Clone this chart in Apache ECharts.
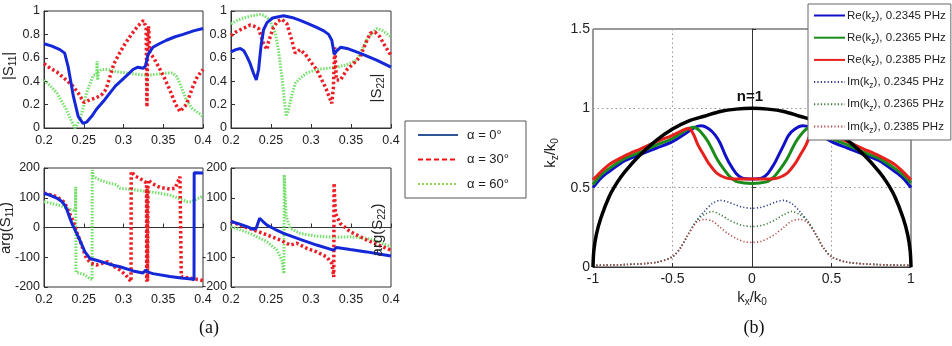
<!DOCTYPE html>
<html><head><meta charset="utf-8">
<script src="https://cdn.jsdelivr.net/npm/echarts@6/dist/echarts.min.js"></script>
<style>html,body{margin:0;padding:0;background:#fff}#c{width:952px;height:346px}</style>
</head><body><div id="c"></div>
<script>
// ---------- data: panel (a) ----------
const s11Blue = [[0.2,0.72],[0.21,0.70],[0.22,0.67],[0.226,0.64],[0.2305,0.52],[0.237,0.27],[0.243,0.10],[0.249,0.04],[0.2535,0.05],[0.26,0.10],[0.266,0.16],[0.275,0.23],[0.283,0.30],[0.29,0.36],[0.2996,0.42],[0.306,0.46],[0.312,0.50],[0.318,0.52],[0.3247,0.51],[0.3276,0.53],[0.331,0.63],[0.337,0.69],[0.345,0.72],[0.354,0.75],[0.365,0.78],[0.375,0.80],[0.388,0.83],[0.4,0.85]];
const s11Red = [[0.2,0.55],[0.208,0.51],[0.216,0.48],[0.228,0.41],[0.236,0.36],[0.243,0.30],[0.25,0.22],[0.258,0.24],[0.266,0.26],[0.272,0.28],[0.278,0.33],[0.283,0.44],[0.288,0.55],[0.295,0.64],[0.302,0.72],[0.31,0.80],[0.318,0.87],[0.325,0.92],[0.3275,0.91],[0.3285,0.86],[0.3295,0.18],[0.3305,0.80],[0.3315,0.87],[0.333,0.64],[0.338,0.60],[0.346,0.50],[0.352,0.42],[0.358,0.33],[0.365,0.21],[0.371,0.14],[0.379,0.20],[0.387,0.35],[0.393,0.44],[0.4,0.50]];
const s11Green = [[0.2,0.41],[0.208,0.36],[0.216,0.30],[0.222,0.23],[0.228,0.16],[0.234,0.07],[0.239,0.0],[0.245,0.07],[0.25,0.19],[0.2536,0.30],[0.258,0.38],[0.262,0.45],[0.266,0.46],[0.2668,0.57],[0.2675,0.41],[0.2685,0.48],[0.272,0.50],[0.28,0.50],[0.292,0.48],[0.304,0.47],[0.316,0.46],[0.329,0.45],[0.342,0.46],[0.354,0.47],[0.362,0.47],[0.367,0.44],[0.371,0.38],[0.375,0.31],[0.379,0.24],[0.386,0.17],[0.392,0.14],[0.4,0.10]];

const s22Blue = [[0.2,0.65],[0.206,0.67],[0.2116,0.68],[0.216,0.66],[0.22,0.61],[0.224,0.55],[0.228,0.47],[0.2316,0.41],[0.2345,0.50],[0.2375,0.70],[0.2407,0.84],[0.245,0.90],[0.252,0.94],[0.2657,0.96],[0.276,0.945],[0.2865,0.92],[0.297,0.89],[0.307,0.86],[0.316,0.83],[0.322,0.80],[0.326,0.75],[0.329,0.63],[0.332,0.66],[0.337,0.69],[0.345,0.68],[0.361,0.64],[0.382,0.58],[0.4,0.52]];
const s22Red = [[0.2,0.79],[0.206,0.82],[0.2116,0.84],[0.218,0.86],[0.224,0.88],[0.229,0.87],[0.2345,0.85],[0.2407,0.72],[0.245,0.67],[0.247,0.74],[0.253,0.86],[0.258,0.91],[0.2636,0.93],[0.2699,0.89],[0.276,0.75],[0.2802,0.64],[0.2865,0.67],[0.293,0.63],[0.299,0.57],[0.307,0.50],[0.312,0.43],[0.318,0.35],[0.322,0.28],[0.326,0.21],[0.328,0.35],[0.3297,0.69],[0.3318,0.41],[0.3367,0.41],[0.345,0.50],[0.353,0.55],[0.3617,0.61],[0.368,0.72],[0.374,0.81],[0.380,0.82],[0.386,0.78],[0.3909,0.72],[0.4,0.62]];
const s22Green = [[0.2,0.89],[0.208,0.92],[0.2158,0.94],[0.226,0.96],[0.2366,0.97],[0.242,0.96],[0.247,0.93],[0.2515,0.88],[0.2553,0.81],[0.259,0.68],[0.2636,0.44],[0.267,0.22],[0.269,0.10],[0.272,0.16],[0.276,0.28],[0.2802,0.38],[0.287,0.43],[0.2948,0.47],[0.307,0.50],[0.3197,0.51],[0.332,0.52],[0.3447,0.54],[0.357,0.58],[0.363,0.66],[0.3696,0.75],[0.376,0.81],[0.382,0.85],[0.39,0.83],[0.4,0.78]];

const a11Blue = [[0.2,115],[0.208,108],[0.216,99],[0.222,88],[0.226,76],[0.2295,55],[0.2326,31],[0.236,8],[0.239,-8],[0.245,-42],[0.2515,-82],[0.2577,-104],[0.266,-110],[0.276,-118],[0.287,-127],[0.2956,-132],[0.312,-146],[0.3245,-153],[0.328,-143],[0.331,-150],[0.337,-155],[0.3585,-165],[0.3725,-170],[0.3857,-173],[0.3887,-176],[0.3889,184],[0.4,183]];
const a11Red = [[0.2,116],[0.216,104],[0.2245,87],[0.2285,70],[0.2335,40],[0.2368,20],[0.241,-15],[0.245,-42],[0.2495,-76],[0.2535,-105],[0.2595,-120],[0.266,-126],[0.2735,-120],[0.2805,-115],[0.287,-130],[0.2956,-143],[0.303,-160],[0.3095,-182],[0.3097,188],[0.315,172],[0.321,165],[0.326,155],[0.329,150],[0.3292,-182],[0.3296,140],[0.3302,-180],[0.3308,160],[0.336,148],[0.3456,135],[0.3585,129],[0.365,132],[0.371,171],[0.3725,168],[0.3727,-165],[0.383,-170],[0.396,-176],[0.4,-178]];
const a11Green = [[0.2,87],[0.208,82],[0.216,77],[0.224,70],[0.232,62],[0.2395,55],[0.2398,137],[0.2402,-150],[0.25,-158],[0.2605,-176],[0.2608,193],[0.262,171],[0.27,160],[0.281,150],[0.291,144],[0.2956,132],[0.312,127],[0.3333,120],[0.3585,109],[0.372,95],[0.3795,87],[0.385,86],[0.398,103],[0.4,104]];

const a22Blue = [[0.2,20],[0.21,12],[0.22,3],[0.228,-6],[0.2316,-2],[0.2358,31],[0.24,20],[0.245,8],[0.255,-6],[0.2657,-20],[0.2865,-40],[0.307,-59],[0.328,-76],[0.332,-67],[0.3489,-74],[0.3696,-82],[0.385,-89],[0.4,-96]];
const a22Red = [[0.2,20],[0.2158,3],[0.228,-8],[0.245,-25],[0.2615,-42],[0.274,-59],[0.2823,-53],[0.2948,-70],[0.307,-82],[0.3197,-99],[0.326,-121],[0.3285,-166],[0.3288,149],[0.3305,48],[0.3364,14],[0.3489,-14],[0.3696,-42],[0.385,-60],[0.4,-76]];
const a22Green = [[0.2,3],[0.224,-20],[0.245,-48],[0.2574,-76],[0.2636,-110],[0.2662,-155],[0.2665,177],[0.269,37],[0.274,-3],[0.2865,-20],[0.307,-29],[0.328,-33],[0.3489,-31],[0.3696,-37],[0.385,-48],[0.4,-65]];

const legendA = ['α = 0°', 'α = 30°', 'α = 60°'];

// ---------- data: panel (b) ----------
const circle = [[-1,0],[-0.995,0.1],[-0.98,0.2],[-0.95,0.31],[-0.9,0.44],[-0.85,0.53],[-0.8,0.6],[-0.7,0.71],[-0.6,0.8],[-0.5,0.87],[-0.4,0.92],[-0.3,0.95],[-0.2,0.98],[-0.1,0.995],[0,1],[0.1,0.995],[0.2,0.98],[0.3,0.95],[0.4,0.92],[0.5,0.87],[0.6,0.8],[0.7,0.71],[0.8,0.6],[0.85,0.53],[0.9,0.44],[0.95,0.31],[0.98,0.2],[0.995,0.1],[1,0]];
const reBlue = [[-1,0.50],[-0.95,0.56],[-0.9,0.60],[-0.8,0.67],[-0.7,0.71],[-0.6,0.75],[-0.5,0.79],[-0.42,0.84],[-0.36,0.88],[-0.32,0.89],[-0.27,0.87],[-0.23,0.83],[-0.2,0.78],[-0.17,0.71],[-0.14,0.65],[-0.1,0.59],[-0.06,0.56],[0,0.555],[0.06,0.56],[0.1,0.59],[0.14,0.65],[0.17,0.71],[0.2,0.77],[0.23,0.83],[0.27,0.87],[0.32,0.89],[0.36,0.88],[0.42,0.84],[0.5,0.79],[0.6,0.75],[0.7,0.71],[0.8,0.67],[0.9,0.60],[0.95,0.56],[1,0.50]];
const reGreen = [[-1,0.52],[-0.95,0.58],[-0.9,0.62],[-0.8,0.685],[-0.7,0.725],[-0.6,0.77],[-0.5,0.81],[-0.42,0.86],[-0.37,0.88],[-0.33,0.86],[-0.29,0.81],[-0.26,0.76],[-0.22,0.68],[-0.18,0.62],[-0.14,0.57],[-0.1,0.54],[-0.05,0.53],[0,0.527],[0.05,0.53],[0.1,0.54],[0.14,0.57],[0.18,0.62],[0.22,0.68],[0.26,0.76],[0.29,0.81],[0.33,0.86],[0.37,0.88],[0.42,0.86],[0.5,0.81],[0.6,0.77],[0.7,0.725],[0.8,0.685],[0.9,0.62],[0.95,0.58],[1,0.53]];
const reRed = [[-1,0.55],[-0.95,0.60],[-0.9,0.645],[-0.8,0.70],[-0.7,0.745],[-0.6,0.79],[-0.5,0.83],[-0.44,0.86],[-0.40,0.875],[-0.37,0.84],[-0.34,0.77],[-0.3,0.70],[-0.27,0.65],[-0.22,0.59],[-0.16,0.56],[-0.1,0.555],[0,0.555],[0.1,0.555],[0.16,0.56],[0.22,0.59],[0.27,0.65],[0.3,0.70],[0.34,0.77],[0.37,0.84],[0.40,0.875],[0.44,0.86],[0.5,0.83],[0.6,0.79],[0.7,0.745],[0.8,0.70],[0.9,0.645],[0.95,0.60],[1,0.55]];
const imBlue = [[-1,0.01],[-0.8,0.015],[-0.6,0.03],[-0.5,0.065],[-0.45,0.12],[-0.41,0.19],[-0.35,0.29],[-0.3,0.35],[-0.25,0.40],[-0.2,0.42],[-0.15,0.41],[-0.1,0.39],[-0.05,0.375],[0,0.37],[0.05,0.375],[0.1,0.39],[0.15,0.41],[0.2,0.42],[0.25,0.40],[0.3,0.35],[0.35,0.29],[0.41,0.19],[0.45,0.12],[0.5,0.065],[0.6,0.03],[0.8,0.015],[1,0.01]];
const imGreen = [[-1,0.01],[-0.8,0.015],[-0.6,0.03],[-0.5,0.065],[-0.45,0.12],[-0.41,0.19],[-0.35,0.29],[-0.3,0.33],[-0.25,0.35],[-0.2,0.33],[-0.15,0.30],[-0.1,0.275],[-0.05,0.26],[0,0.255],[0.05,0.26],[0.1,0.275],[0.15,0.30],[0.2,0.33],[0.25,0.35],[0.3,0.33],[0.35,0.29],[0.41,0.19],[0.45,0.12],[0.5,0.065],[0.6,0.03],[0.8,0.015],[1,0.01]];
const imRed = [[-1,0.01],[-0.8,0.015],[-0.6,0.03],[-0.5,0.065],[-0.45,0.12],[-0.41,0.19],[-0.35,0.28],[-0.3,0.30],[-0.25,0.29],[-0.2,0.25],[-0.15,0.21],[-0.1,0.18],[-0.05,0.16],[0,0.155],[0.05,0.16],[0.1,0.18],[0.15,0.21],[0.2,0.25],[0.25,0.29],[0.3,0.30],[0.35,0.28],[0.41,0.19],[0.45,0.12],[0.5,0.065],[0.6,0.03],[0.8,0.015],[1,0.01]];
const legendB = ['Re(kz), 0.2345 PHz','Re(kz), 0.2365 PHz','Re(kz), 0.2385 PHz','Im(kz), 0.2345 PHz','Im(kz), 0.2365 PHz','Im(kz), 0.2385 PHz'];

// ---------- styling ----------
const FAM = 'Liberation Sans';
const FONT = '"Liberation Sans", Arial, Helvetica, sans-serif';
const C_BLUE = '#1428d8', C_RED = '#ee1c24', C_GREEN = '#74e06a';

const grids = [
  {left:44, top:11, width:159, height:117},
  {left:231, top:11, width:160, height:117},
  {left:44, top:168, width:159, height:119},
  {left:231, top:168, width:160, height:119},
  {left:593, top:29, width:318, height:238}
].map(g => Object.assign({show:true, borderColor:'#333', borderWidth:1, backgroundColor:'#fff'}, g));

const axLine = {show:true, lineStyle:{color:'#333', width:1}};
const axTick = {show:true, inside:true, length:4, lineStyle:{color:'#333'}};
function xA(gi){ return {type:'value', gridIndex:gi, min:0.2, max:0.4, interval:0.05, axisLine:axLine, axisTick:axTick, splitLine:{show:false},
  axisLabel:{fontSize:12.5, color:'#222', margin:6, fontFamily:FONT}}; }
function yA(gi, mn, mx, iv){ return {type:'value', gridIndex:gi, min:mn, max:mx, interval:iv, axisLine:axLine, axisTick:axTick, splitLine:{show:false},
  axisLabel:{fontSize:12.5, color:'#222', margin:4, fontFamily:FONT}}; }

function ln(name, data, gi, color, width, type, z){
  return {type:'line', name, data, xAxisIndex:gi, yAxisIndex:gi, symbol:'none', showSymbol:false, smooth:false,
    lineStyle:{color, width, type, cap:'butt'}, itemStyle:{color}, z:z||2, clip:true, silent:true};
}
const DASH = [2.5,2.5], DOT = [1.5,1.5];

const series = [
  ln('s11g', s11Green, 0, C_GREEN, 3, DOT, 2), ln('s11r', s11Red, 0, C_RED, 3.5, DASH, 3), ln('s11b', s11Blue, 0, C_BLUE, 3, 'solid', 4),
  ln('s22g', s22Green, 1, C_GREEN, 3, DOT, 2), ln('s22r', s22Red, 1, C_RED, 3.5, DASH, 3), ln('s22b', s22Blue, 1, C_BLUE, 3, 'solid', 4),
  ln('a11g', a11Green, 2, C_GREEN, 3, DOT, 2), ln('a11r', a11Red, 2, C_RED, 3.5, DASH, 3), ln('a11b', a11Blue, 2, C_BLUE, 3, 'solid', 4),
  ln('a22g', a22Green, 3, C_GREEN, 3, DOT, 2), ln('a22r', a22Red, 3, C_RED, 3.5, DASH, 3), ln('a22b', a22Blue, 3, C_BLUE, 3, 'solid', 4),
  // legend-only entries for panel (a)
  ln(legendA[0], [], 0, '#2f5597', 2.5, 'solid'),
  ln(legendA[1], [], 0, '#ff1010', 2.5, [5,3]),
  ln(legendA[2], [], 0, '#92d050', 2.5, [2,2]),
  // panel (b)
  Object.assign(ln('n1', circle, 4, '#000', 3.5, 'solid', 5), {smooth:0.3,
    markPoint:{symbol:'circle', symbolSize:1, itemStyle:{color:'rgba(0,0,0,0)'}, silent:true, data:[{coord:[0,1]}],
      label:{show:true, position:'top', distance:3, offset:[-2,0], formatter:'n=1', fontSize:15, fontWeight:'bold', color:'#111', fontFamily:FONT}}}),
  Object.assign(ln(legendB[3], imBlue, 4, '#2c3a8c', 1.6, [1.2,2.2], 2), {smooth:0.3}),
  Object.assign(ln(legendB[4], imGreen, 4, '#3b7a3b', 1.6, [1.2,2.2], 2), {smooth:0.3}),
  Object.assign(ln(legendB[5], imRed, 4, '#b04848', 1.6, [1.2,2.2], 2), {smooth:0.3}),
  Object.assign(ln(legendB[0], reBlue, 4, '#1010c8', 3, 'solid', 4), {smooth:0.3}),
  Object.assign(ln(legendB[1], reGreen, 4, '#1a8c1a', 3, 'solid', 4), {smooth:0.3}),
  Object.assign(ln(legendB[2], reRed, 4, '#e8201c', 3, 'solid', 4), {smooth:0.3})
];

const subRich = {sub:{fontSize:8.5, fontFamily:FONT, color:'#222', lineHeight:8, padding:[8,0,0,0]}};
function gtext(text, x, y, size, rot){
  return {type:'text', x, y, rotation:rot||0, silent:true, z:20,
    style:{text, fontSize:size, fontFamily:FAM, fill:'#222', align:'center', verticalAlign:'middle', textAlign:'center', textVerticalAlign:'middle',
      rich:{sub:{fontSize:Math.round(size*0.68), fontFamily:FAM, fill:'#222', lineHeight:size*0.6, padding:[size*0.55,0,0,0]}}}};
}
const noSym = {opacity:0, color:'rgba(0,0,0,0)', borderWidth:0};

const option = {
  animation:false,
  backgroundColor:'#fff',
  grid: grids,
  xAxis: [xA(0), xA(1), xA(2), xA(3),
    {type:'value', gridIndex:4, min:-1, max:1, interval:0.5, axisLine:axLine, axisTick:axTick,
     splitLine:{show:true, lineStyle:{color:'#999', type:[1.5,3], width:1}},
     axisLabel:{fontSize:14, color:'#222', margin:5, fontFamily:FONT}}],
  yAxis: [yA(0,0,1,0.2), yA(1,0,1,0.2), yA(2,-200,200,100), yA(3,-200,200,100),
    {type:'value', gridIndex:4, min:0, max:1.5, interval:0.5, axisLine:axLine, axisTick:axTick,
     splitLine:{show:true, lineStyle:{color:'#999', type:[1.5,3], width:1}},
     axisLabel:{fontSize:14, color:'#222', margin:3, fontFamily:FONT}}],
  legend: [
    {data:legendA, left:405, top:121, orient:'vertical', itemWidth:40, itemHeight:12, itemGap:11.5,
     padding:[7.5,17,7.5,12], borderColor:'#555', borderWidth:1, backgroundColor:'#fff', selectedMode:false, z:10,
     itemStyle:noSym,
     textStyle:{fontSize:13, fontFamily:FONT, color:'#222', padding:[0,0,0,4]}},
    {data:legendB, left:808, top:4, orient:'vertical', itemWidth:31, itemHeight:10, itemGap:5.2,
     padding:[3,5,5,5], borderColor:'#666', borderWidth:1, backgroundColor:'#fff', selectedMode:false, z:10,
     itemStyle:noSym,
     formatter: n => n.replace('(kz)', '(k{sub|z})'),
     textStyle:{fontSize:11.5, fontFamily:FONT, color:'#222', lineHeight:14, padding:[0,0,0,-3], rich:subRich}}
  ],
  graphic: [
    gtext('|S{sub|11}|', 9, 66, 15, Math.PI/2),
    gtext('|S{sub|22}|', 377, 88, 15, Math.PI/2),
    gtext('arg(S{sub|11})', 6, 228, 15, Math.PI/2),
    gtext('arg(S{sub|22})', 378, 230, 15, Math.PI/2),
    gtext('k{sub|x}/k{sub|0}', 752, 298, 15, 0),
    gtext('k{sub|z}/k{sub|0}', 551, 153, 15, Math.PI/2),
    {type:'text', x:209, y:328, silent:true, style:{text:'(a)', fontSize:18, fontFamily:'Liberation Serif', fill:'#111', align:'center', verticalAlign:'middle', textAlign:'center', textVerticalAlign:'middle'}},
    {type:'text', x:754, y:328, silent:true, style:{text:'(b)', fontSize:18, fontFamily:'Liberation Serif', fill:'#111', align:'center', verticalAlign:'middle', textAlign:'center', textVerticalAlign:'middle'}}
  ],
  series
};
const chart = echarts.init(document.getElementById('c'), null, {renderer:'canvas'});
chart.setOption(option);
</script>
</body></html>
